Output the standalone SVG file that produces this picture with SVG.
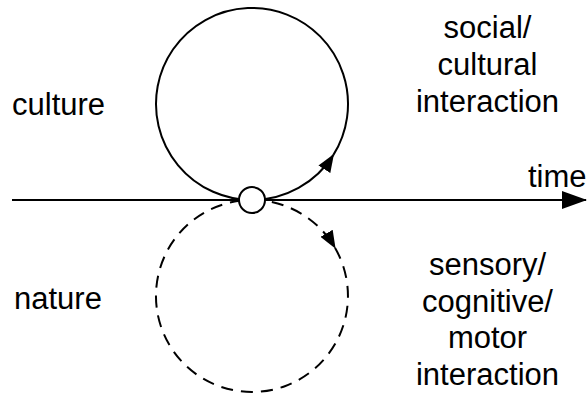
<svg xmlns="http://www.w3.org/2000/svg" width="588" height="397" viewBox="0 0 588 397">
<style>
text{font-family:"Liberation Sans",Arial,Helvetica,sans-serif;font-size:31px;fill:#000}
.c{text-anchor:middle}
.ln{fill:none;stroke:#000;stroke-width:2}
.dash{stroke-dasharray:12,8}
</style>
<defs>
<marker id="ah" markerUnits="userSpaceOnUse" viewBox="0 0 18 14" markerWidth="18" markerHeight="14" refX="17" refY="7" orient="auto">
<path d="M0,0 L18,7 L0,14 z" fill="#000"/>
</marker>
<marker id="ahBig" markerUnits="userSpaceOnUse" viewBox="0 0 25 18" markerWidth="25" markerHeight="18" refX="24" refY="9" orient="auto">
<path d="M0,0 L25,9 L0,18 z" fill="#000"/>
</marker>
</defs>
<g id="connectors">
<path id="time-axis" class="ln" d="M12,200 L586,200" marker-end="url(#ahBig)"/>
<path id="culture-loop-a" class="ln" d="M252,200 A96,96 0 0 0 333.4,154.9" marker-end="url(#ah)"/>
<path id="culture-loop-b" class="ln" d="M333.4,154.9 A96,96 0 1 0 252,200"/>
<path id="nature-loop-a" class="ln dash" d="M252,200 A96,96 0 0 1 335.1,248" marker-end="url(#ah)"/>
<path id="nature-loop-b" class="ln dash" d="M335.1,248 A96,96 0 1 1 252,200"/>
</g>
<g id="origin">
<circle cx="252" cy="200" r="13" fill="#fff" stroke="#000" stroke-width="2"/>
</g>
<g id="label-culture"><text x="12" y="115">culture</text></g>
<g id="label-nature"><text x="14" y="309">nature</text></g>
<g id="label-time"><text x="528" y="187">time</text></g>
<g id="label-social">
<text class="c" x="487.5" y="38">social/</text>
<text class="c" x="487.5" y="75">cultural</text>
<text class="c" x="487.5" y="112">interaction</text>
</g>
<g id="label-sensory">
<text class="c" x="487.5" y="275">sensory/</text>
<text class="c" x="487.5" y="311.5">cognitive/</text>
<text class="c" x="487.5" y="348">motor</text>
<text class="c" x="487.5" y="384.5">interaction</text>
</g>
</svg>
